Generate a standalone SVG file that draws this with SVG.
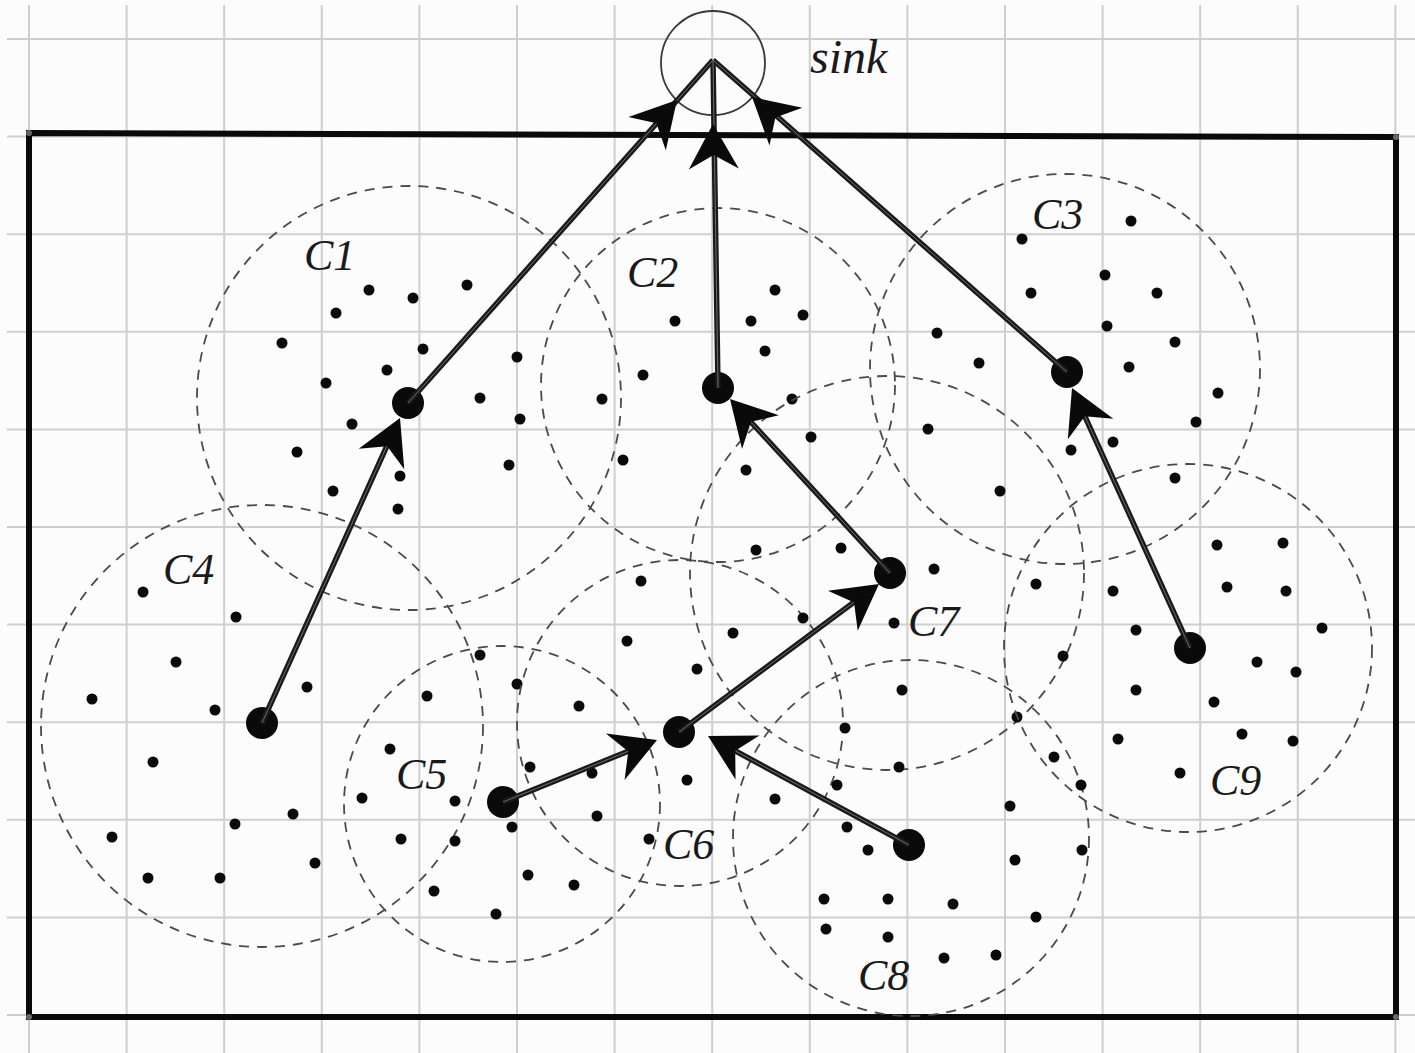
<svg xmlns="http://www.w3.org/2000/svg" xmlns:xlink="http://www.w3.org/1999/xlink" width="1415" height="1053" viewBox="0 0 1415 1053">
<style>
.grid{stroke:#cfcfcf;stroke-width:2;fill:none}
.frame{stroke:#0a0a0a;stroke-width:6;fill:none}
.range{stroke:#4a4a4a;stroke-width:1.8;fill:none;stroke-dasharray:10 8}
.dot{fill:#0a0a0a}
.head{fill:#0a0a0a}
.lbl{font-family:"Liberation Serif","DejaVu Serif",serif;font-style:italic;font-size:44px;fill:#1a1a1a}
.link{stroke:#1a1a1a;stroke-width:5.5;fill:none}
.core{stroke:#6e6e6e;stroke-width:1;fill:none}
.ah{fill:#0a0a0a}
</style>
<defs>
<path id="arrow" class="ah" d="M0,0 L-45,-25 L-31,0 L-45,25 Z"/>
</defs>
<rect width="1415" height="1053" fill="#fcfcfc"/>
<path class="grid" d="M29,5V1053M126.6,5V1053M224.2,5V1053M321.8,5V1053M419.4,5V1053M517,5V1053M614.6,5V1053M712.2,5V1053M809.8,5V1053M907.4,5V1053M1005,5V1053M1102.6,5V1053M1200.2,5V1053M1297.8,5V1053M1395.4,5V1053M7,39H1415M7,136.6H1415M7,234.2H1415M7,331.8H1415M7,429.4H1415M7,527H1415M7,624.6H1415M7,722.2H1415M7,819.8H1415M7,917.4H1415M7,1015H1415"/>
<path class="frame" d="M29,133 L1396,137 L1396,1017 L29,1017 Z"/>
<g fill="#666"><circle cx="29" cy="133" r="3"/><circle cx="1396" cy="137" r="3"/><circle cx="29" cy="1017" r="3"/><circle cx="1396" cy="1017" r="3"/></g>

<g id="sink">
<circle cx="713" cy="63" r="52" fill="none" stroke="#3a3a3a" stroke-width="1.8"/>
<text class="lbl" x="810" y="73" style="font-size:48px">sink</text>
</g>

<g id="C1">
<circle class="range" cx="409" cy="398" r="212"/>
<text class="lbl" x="304" y="270">C1</text>
<g class="dot"><circle cx="369" cy="290" r="5.5"/><circle cx="413" cy="298" r="5.5"/><circle cx="467" cy="285" r="5.5"/><circle cx="336" cy="313" r="5.5"/><circle cx="282" cy="343" r="5.5"/><circle cx="423" cy="349" r="5.5"/><circle cx="387" cy="370" r="5.5"/><circle cx="326" cy="383" r="5.5"/><circle cx="352" cy="424" r="5.5"/><circle cx="297" cy="452" r="5.5"/><circle cx="400" cy="476" r="5.5"/><circle cx="333" cy="491" r="5.5"/><circle cx="398" cy="509" r="5.5"/><circle cx="517" cy="357" r="5.5"/><circle cx="480" cy="398" r="5.5"/><circle cx="520" cy="419" r="5.5"/><circle cx="509" cy="465" r="5.5"/><circle cx="602" cy="399" r="5.5"/></g>
<circle class="head" cx="408" cy="403" r="16"/>
</g>

<g id="C2">
<circle class="range" cx="718" cy="385" r="177"/>
<text class="lbl" x="627" y="287">C2</text>
<g class="dot"><circle cx="643" cy="375" r="5.5"/><circle cx="623" cy="460" r="5.5"/><circle cx="675" cy="321" r="5.5"/><circle cx="751" cy="321" r="5.5"/><circle cx="775" cy="290" r="5.5"/><circle cx="803" cy="315" r="5.5"/><circle cx="765" cy="351" r="5.5"/><circle cx="792" cy="399" r="5.5"/><circle cx="811" cy="437" r="5.5"/><circle cx="746" cy="470" r="5.5"/></g>
<circle class="head" cx="718" cy="388" r="16"/>
</g>

<g id="C3">
<circle class="range" cx="1065" cy="369" r="195"/>
<text class="lbl" x="1032" y="229">C3</text>
<g class="dot"><circle cx="1131" cy="221" r="5.5"/><circle cx="1022" cy="239" r="5.5"/><circle cx="1105" cy="275" r="5.5"/><circle cx="1031" cy="293" r="5.5"/><circle cx="1157" cy="293" r="5.5"/><circle cx="1107" cy="326" r="5.5"/><circle cx="1175" cy="342" r="5.5"/><circle cx="937" cy="333" r="5.5"/><circle cx="979" cy="363" r="5.5"/><circle cx="1129" cy="367" r="5.5"/><circle cx="1218" cy="393" r="5.5"/><circle cx="1196" cy="422" r="5.5"/><circle cx="1113" cy="442" r="5.5"/><circle cx="1071" cy="450" r="5.5"/><circle cx="928" cy="429" r="5.5"/><circle cx="1000" cy="491" r="5.5"/><circle cx="1175" cy="478" r="5.5"/></g>
<circle class="head" cx="1067" cy="372" r="16"/>
</g>

<g id="C4">
<circle class="range" cx="262" cy="726" r="221"/>
<text class="lbl" x="163" y="584">C4</text>
<g class="dot"><circle cx="143" cy="592" r="5.5"/><circle cx="236" cy="617" r="5.5"/><circle cx="176" cy="662" r="5.5"/><circle cx="92" cy="699" r="5.5"/><circle cx="307" cy="687" r="5.5"/><circle cx="215" cy="710" r="5.5"/><circle cx="153" cy="762" r="5.5"/><circle cx="235" cy="824" r="5.5"/><circle cx="293" cy="814" r="5.5"/><circle cx="112" cy="837" r="5.5"/><circle cx="315" cy="863" r="5.5"/><circle cx="148" cy="878" r="5.5"/><circle cx="220" cy="878" r="5.5"/><circle cx="427" cy="696" r="5.5"/></g>
<circle class="head" cx="262" cy="723" r="16"/>
</g>

<g id="C5">
<circle class="range" cx="502" cy="804" r="158"/>
<text class="lbl" x="396" y="789">C5</text>
<g class="dot"><circle cx="390" cy="749" r="5.5"/><circle cx="362" cy="798" r="5.5"/><circle cx="455" cy="801" r="5.5"/><circle cx="401" cy="839" r="5.5"/><circle cx="455" cy="841" r="5.5"/><circle cx="434" cy="891" r="5.5"/><circle cx="480" cy="655" r="5.5"/><circle cx="517" cy="684" r="5.5"/><circle cx="530" cy="767" r="5.5"/><circle cx="512" cy="827" r="5.5"/><circle cx="528" cy="875" r="5.5"/><circle cx="574" cy="885" r="5.5"/><circle cx="496" cy="914" r="5.5"/></g>
<circle class="head" cx="503" cy="802" r="16"/>
</g>

<g id="C6">
<circle class="range" cx="680" cy="723" r="163"/>
<text class="lbl" x="663" y="859">C6</text>
<g class="dot"><circle cx="641" cy="581" r="5.5"/><circle cx="627" cy="641" r="5.5"/><circle cx="697" cy="669" r="5.5"/><circle cx="733" cy="633" r="5.5"/><circle cx="579" cy="706" r="5.5"/><circle cx="592" cy="773" r="5.5"/><circle cx="597" cy="816" r="5.5"/><circle cx="649" cy="839" r="5.5"/><circle cx="687" cy="780" r="5.5"/></g>
<circle class="head" cx="679" cy="732" r="16"/>
</g>

<g id="C7">
<circle class="range" cx="887" cy="573" r="197"/>
<text class="lbl" x="908" y="636">C7</text>
<g class="dot"><circle cx="756" cy="550" r="5.5"/><circle cx="841" cy="548" r="5.5"/><circle cx="934" cy="569" r="5.5"/><circle cx="803" cy="618" r="5.5"/><circle cx="894" cy="623" r="5.5"/><circle cx="902" cy="690" r="5.5"/></g>
<circle class="head" cx="890" cy="573" r="16"/>
</g>

<g id="C8">
<circle class="range" cx="911" cy="838" r="178"/>
<text class="lbl" x="858" y="990">C8</text>
<g class="dot"><circle cx="845" cy="728" r="5.5"/><circle cx="899" cy="767" r="5.5"/><circle cx="837" cy="785" r="5.5"/><circle cx="775" cy="799" r="5.5"/><circle cx="847" cy="827" r="5.5"/><circle cx="868" cy="850" r="5.5"/><circle cx="824" cy="899" r="5.5"/><circle cx="888" cy="899" r="5.5"/><circle cx="826" cy="929" r="5.5"/><circle cx="888" cy="937" r="5.5"/><circle cx="944" cy="958" r="5.5"/><circle cx="1017" cy="717" r="5.5"/><circle cx="1054" cy="757" r="5.5"/><circle cx="1081" cy="785" r="5.5"/><circle cx="1010" cy="806" r="5.5"/><circle cx="1082" cy="850" r="5.5"/><circle cx="1015" cy="860" r="5.5"/><circle cx="953" cy="904" r="5.5"/><circle cx="1036" cy="917" r="5.5"/><circle cx="996" cy="955" r="5.5"/></g>
<circle class="head" cx="909" cy="845" r="16"/>
</g>

<g id="C9">
<circle class="range" cx="1188" cy="648" r="184"/>
<text class="lbl" x="1210" y="795">C9</text>
<g class="dot"><circle cx="1217" cy="545" r="5.5"/><circle cx="1283" cy="543" r="5.5"/><circle cx="1036" cy="584" r="5.5"/><circle cx="1113" cy="591" r="5.5"/><circle cx="1227" cy="587" r="5.5"/><circle cx="1286" cy="591" r="5.5"/><circle cx="1322" cy="628" r="5.5"/><circle cx="1136" cy="630" r="5.5"/><circle cx="1063" cy="656" r="5.5"/><circle cx="1257" cy="662" r="5.5"/><circle cx="1296" cy="672" r="5.5"/><circle cx="1136" cy="690" r="5.5"/><circle cx="1214" cy="702" r="5.5"/><circle cx="1118" cy="739" r="5.5"/><circle cx="1242" cy="734" r="5.5"/><circle cx="1293" cy="741" r="5.5"/><circle cx="1180" cy="773" r="5.5"/></g>
<circle class="head" cx="1190" cy="648" r="16"/>
</g>

<g id="connectors">
<path class="link" d="M408,403 L713,60"/>
<path class="link" d="M718,388 L713,60"/>
<path class="link" d="M1067,372 L713,60"/>
<path class="link" d="M262,723 L395,428"/>
<path class="link" d="M890,573 L738,408"/>
<path class="link" d="M1190,648 L1077,399"/>
<path class="link" d="M679,732 L869,591"/>
<path class="link" d="M503,802 L646,744"/>
<path class="link" d="M909,845 L717,741"/>
<path class="core" d="M408,403 L713,60M718,388 L713,60M1067,372 L713,60M262,723 L395,428M890,573 L738,408M1190,648 L1077,399M679,732 L869,591M503,802 L646,744M909,845 L717,741"/>
<use xlink:href="#arrow" transform="translate(677,100) rotate(-48.4)"/>
<use xlink:href="#arrow" transform="translate(713,124) rotate(-91)"/>
<use xlink:href="#arrow" transform="translate(752,97) rotate(-138.9)"/>
<use xlink:href="#arrow" transform="translate(400,418) rotate(-65.7)"/>
<use xlink:href="#arrow" transform="translate(730,399) rotate(-132.6)"/>
<use xlink:href="#arrow" transform="translate(1072,388) rotate(-114.4)"/>
<use xlink:href="#arrow" transform="translate(879,584) rotate(-36.5)"/>
<use xlink:href="#arrow" transform="translate(657,740) rotate(-21.9)"/>
<use xlink:href="#arrow" transform="translate(708,736) rotate(-151.4)"/>
</g>
</svg>
